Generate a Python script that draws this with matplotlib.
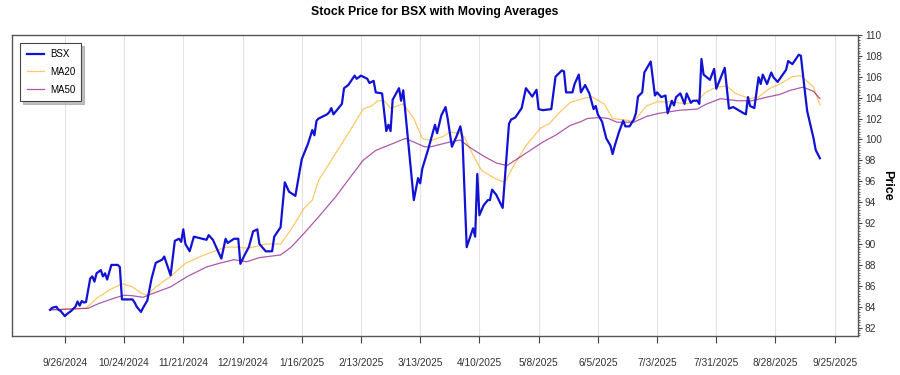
import numpy as np
import pandas as pd
import matplotlib
matplotlib.use('Agg')
from matplotlib import pyplot as plt
from matplotlib.ticker import MultipleLocator

plt.rcParams['font.family'] = ['Liberation Sans', 'DejaVu Sans']

# BSX close
price_dates = [
    '2024-09-19', '2024-09-20', '2024-09-22', '2024-09-23', '2024-09-24', '2024-09-26', '2024-09-27',
    '2024-09-29', '2024-10-01', '2024-10-02', '2024-10-03', '2024-10-04', '2024-10-05', '2024-10-06',
    '2024-10-08', '2024-10-09', '2024-10-10', '2024-10-11', '2024-10-12', '2024-10-13', '2024-10-14',
    '2024-10-15', '2024-10-16', '2024-10-18', '2024-10-21', '2024-10-22', '2024-10-23', '2024-10-25',
    '2024-10-28', '2024-10-29', '2024-10-30', '2024-11-01', '2024-11-02', '2024-11-04', '2024-11-06',
    '2024-11-08', '2024-11-11', '2024-11-12', '2024-11-15', '2024-11-17', '2024-11-19', '2024-11-20',
    '2024-11-21', '2024-11-22', '2024-11-24', '2024-11-26', '2024-11-30', '2024-12-02', '2024-12-03',
    '2024-12-05', '2024-12-09', '2024-12-11', '2024-12-12', '2024-12-15', '2024-12-17', '2024-12-18',
    '2024-12-20', '2024-12-22', '2024-12-24', '2024-12-26', '2024-12-27', '2024-12-30', '2025-01-02',
    '2025-01-03', '2025-01-04', '2025-01-06', '2025-01-08', '2025-01-10', '2025-01-13', '2025-01-16',
    '2025-01-19', '2025-01-21', '2025-01-22', '2025-01-23', '2025-01-24', '2025-01-28', '2025-01-29',
    '2025-01-30', '2025-01-31', '2025-02-02', '2025-02-04', '2025-02-05', '2025-02-07', '2025-02-10',
    '2025-02-11', '2025-02-13', '2025-02-16', '2025-02-17', '2025-02-19', '2025-02-20', '2025-02-23',
    '2025-02-25', '2025-02-26', '2025-02-27', '2025-02-28', '2025-03-03', '2025-03-04', '2025-03-05',
    '2025-03-10', '2025-03-12', '2025-03-13', '2025-03-14', '2025-03-17', '2025-03-20', '2025-03-21',
    '2025-03-23', '2025-03-25', '2025-03-26', '2025-03-28', '2025-03-30', '2025-04-01', '2025-04-02',
    '2025-04-04', '2025-04-07', '2025-04-08', '2025-04-09', '2025-04-10', '2025-04-12', '2025-04-14',
    '2025-04-15', '2025-04-16', '2025-04-18', '2025-04-21', '2025-04-24', '2025-04-25', '2025-04-27',
    '2025-04-30', '2025-05-02', '2025-05-05', '2025-05-07', '2025-05-08', '2025-05-10', '2025-05-14',
    '2025-05-16', '2025-05-19', '2025-05-20', '2025-05-21', '2025-05-24', '2025-05-25', '2025-05-27',
    '2025-05-28', '2025-05-30', '2025-06-01', '2025-06-03', '2025-06-04', '2025-06-05', '2025-06-07',
    '2025-06-09', '2025-06-11', '2025-06-12', '2025-06-13', '2025-06-15', '2025-06-17', '2025-06-18',
    '2025-06-20', '2025-06-22', '2025-06-23', '2025-06-24', '2025-06-26', '2025-06-27', '2025-06-30',
    '2025-07-02', '2025-07-03', '2025-07-05', '2025-07-07', '2025-07-08', '2025-07-10', '2025-07-11',
    '2025-07-12', '2025-07-14', '2025-07-16', '2025-07-17', '2025-07-19', '2025-07-20', '2025-07-22',
    '2025-07-23', '2025-07-24', '2025-07-25', '2025-07-28', '2025-07-30', '2025-07-31', '2025-08-04',
    '2025-08-06', '2025-08-08', '2025-08-13', '2025-08-14', '2025-08-15', '2025-08-16', '2025-08-18',
    '2025-08-20', '2025-08-21', '2025-08-22', '2025-08-24', '2025-08-26', '2025-08-27', '2025-08-29',
    '2025-09-02', '2025-09-03', '2025-09-05', '2025-09-08', '2025-09-09', '2025-09-11', '2025-09-12',
    '2025-09-15', '2025-09-16', '2025-09-17', '2025-09-18',
]
price = [
    83.7, 83.9, 84.0, 83.7, 83.6, 83.1, 83.3,
    83.6, 84.0, 84.5, 84.1, 84.55, 84.4, 84.45,
    86.7, 86.9, 86.4, 87.2, 87.35, 87.5, 86.9,
    87.2, 86.6, 88.0, 88.0, 87.8, 84.7, 84.7,
    84.7, 84.4, 84.0, 83.5, 83.9, 84.6, 86.7,
    88.2, 88.5, 88.8, 87.0, 90.3, 90.5, 90.2,
    91.4, 90.0, 89.3, 90.7, 90.5, 90.4, 90.85,
    90.4, 88.6, 90.5, 90.1, 90.5, 90.5, 88.1,
    88.95, 89.7, 91.2, 91.4, 90.0, 89.3, 89.3,
    90.7, 91.0, 91.6, 95.9, 95.0, 94.6, 98.1,
    99.6, 100.9, 100.4, 101.8, 102.0, 102.4, 102.6,
    103.0, 102.4, 102.9, 103.4, 104.9, 105.2, 106.1,
    105.8, 106.1, 105.8, 105.4, 105.6, 104.5, 104.4,
    100.8, 101.4, 100.8, 103.8, 104.9, 103.7, 104.7,
    94.2, 96.3, 95.8, 97.2, 99.2, 101.4, 100.6,
    102.3, 103.1, 102.0, 99.3, 100.2, 101.25, 100.1,
    89.7, 91.5, 90.7, 96.7, 92.75, 93.7, 94.2,
    94.2, 95.2, 94.7, 93.45, 101.5, 101.9, 102.1,
    103.0, 104.9, 104.1, 104.75, 102.9, 102.8, 102.9,
    106.0, 106.6, 106.5, 104.5, 104.5, 105.3, 106.2,
    104.5, 105.2, 104.4, 102.9, 103.2, 102.4, 101.7,
    100.1, 99.4, 98.6, 99.4, 100.7, 101.8, 101.25,
    101.25, 101.9, 102.5, 104.1, 104.5, 106.4, 107.45,
    104.2, 104.5, 104.05, 104.2, 102.5, 103.7, 103.25,
    104.05, 104.4, 103.4, 104.4, 103.5, 103.7, 103.7,
    103.4, 107.7, 106.2, 105.7, 106.75, 104.85, 106.85,
    102.95, 103.1, 102.5, 102.4, 104.05, 103.2, 103.0,
    105.95, 105.3, 106.2, 105.3, 106.4, 105.95, 105.5,
    106.65, 107.5, 107.2, 108.1, 108.0, 104.4, 102.7,
    100.1, 99.0, 98.6, 98.2,
]

# 20-day moving average
ma20_dates = [
    '2024-09-19', '2024-10-06', '2024-10-11', '2024-10-17', '2024-10-23', '2024-10-28', '2024-11-01',
    '2024-11-04', '2024-11-08', '2024-11-15', '2024-11-22', '2024-11-29', '2024-12-05', '2024-12-11',
    '2024-12-16', '2024-12-21', '2024-12-24', '2024-12-30', '2025-01-06', '2025-01-11', '2025-01-17',
    '2025-01-21', '2025-01-24', '2025-02-01', '2025-02-08', '2025-02-14', '2025-02-18', '2025-02-21',
    '2025-02-24', '2025-02-27', '2025-03-05', '2025-03-10', '2025-03-14', '2025-03-18', '2025-03-24',
    '2025-03-27', '2025-04-01', '2025-04-03', '2025-04-07', '2025-04-11', '2025-04-17', '2025-04-22',
    '2025-04-26', '2025-05-02', '2025-05-09', '2025-05-13', '2025-05-18', '2025-05-23', '2025-05-29',
    '2025-06-02', '2025-06-08', '2025-06-12', '2025-06-16', '2025-06-22', '2025-06-28', '2025-07-03',
    '2025-07-09', '2025-07-17', '2025-07-23', '2025-07-26', '2025-07-31', '2025-08-05', '2025-08-09',
    '2025-08-16', '2025-08-20', '2025-08-25', '2025-08-30', '2025-09-05', '2025-09-09', '2025-09-15',
    '2025-09-18',
]
ma20 = [
    83.7, 83.85, 84.8, 85.6, 86.2, 85.9, 85.3,
    85.1, 85.9, 86.9, 88.15, 88.8, 89.25, 89.7,
    89.7, 89.6, 89.7, 90.0, 90.0, 91.4, 93.4,
    94.2, 96.1, 98.65, 100.9, 102.9, 103.2, 103.7,
    103.7, 103.0, 103.4, 102.0, 100.1, 99.9, 100.3,
    100.7, 100.6, 100.2, 98.5, 97.05, 96.3, 95.9,
    97.4, 99.4, 101.1, 101.5, 102.6, 103.55, 103.9,
    104.1, 103.4, 102.0, 101.9, 101.75, 103.2, 103.6,
    103.6, 103.4, 103.9, 104.5, 105.0, 105.1, 104.4,
    103.9, 104.05, 104.85, 105.3, 106.0, 106.1, 105.0,
    103.3,
]

# 50-day moving average
ma50_dates = [
    '2024-09-19', '2024-10-07', '2024-10-12', '2024-10-19', '2024-10-24', '2024-10-28', '2024-11-02',
    '2024-11-07', '2024-11-15', '2024-11-23', '2024-12-02', '2024-12-08', '2024-12-15', '2024-12-21',
    '2024-12-27', '2025-01-06', '2025-01-11', '2025-01-17', '2025-01-24', '2025-02-01', '2025-02-08',
    '2025-02-14', '2025-02-20', '2025-02-28', '2025-03-06', '2025-03-10', '2025-03-15', '2025-03-18',
    '2025-03-27', '2025-04-01', '2025-04-05', '2025-04-12', '2025-04-18', '2025-04-23', '2025-04-28',
    '2025-05-04', '2025-05-10', '2025-05-16', '2025-05-23', '2025-05-28', '2025-05-31', '2025-06-06',
    '2025-06-10', '2025-06-14', '2025-06-22', '2025-06-28', '2025-07-04', '2025-07-14', '2025-07-22',
    '2025-07-26', '2025-08-02', '2025-08-10', '2025-08-17', '2025-08-24', '2025-08-30', '2025-09-04',
    '2025-09-10', '2025-09-15', '2025-09-18',
]
ma50 = [
    83.7, 83.85, 84.3, 84.8, 85.1, 85.05, 84.9,
    85.3, 85.9, 86.9, 87.8, 88.15, 88.5, 88.3,
    88.7, 88.95, 89.7, 91.0, 92.6, 94.5, 96.4,
    98.0, 98.95, 99.6, 100.1, 99.75, 99.3, 99.3,
    99.75, 99.95, 99.3, 98.4, 97.75, 97.5, 98.15,
    98.95, 99.75, 100.4, 101.35, 101.7, 102.0, 102.1,
    102.0, 101.65, 101.65, 102.2, 102.5, 102.8, 102.9,
    103.35, 103.9, 103.7, 103.7, 104.05, 104.3, 104.7,
    105.0, 104.6, 103.9,
]

tick_dates = pd.date_range('2024-09-26', periods=14, freq='28D')
tick_labels = [f'{d.month}/{d.day}/{d.year}' for d in tick_dates]

fig = plt.figure(figsize=(9, 3.75), dpi=100)
ax = fig.add_axes([0.0133, 0.104, 0.94, 0.803])

ax.plot(pd.to_datetime(price_dates), price, color='#1212d4', lw=1.6, label='BSX', zorder=3)
ax.plot(pd.to_datetime(ma20_dates), ma20, color='orange', alpha=0.6, lw=0.9, label='MA20', zorder=2)
ax.plot(pd.to_datetime(ma50_dates), ma50, color='purple', alpha=0.65, lw=0.9, label='MA50', zorder=2)

ax.set_xlim(pd.Timestamp('2024-09-01'), pd.Timestamp('2025-10-06'))
ax.set_ylim(81.2, 110)

ax.set_xticks(tick_dates)
ax.set_xticklabels(tick_labels, fontsize=7.3, color='#333333')
ax.tick_params(axis='x', length=5, pad=11, color='#444444')
ax.grid(axis='x', color='#e3e3e3', lw=0.8)
ax.set_axisbelow(True)

ax.yaxis.tick_right()
ax.yaxis.set_label_position('right')
ax.set_yticks(np.arange(82, 111, 2))
ax.yaxis.set_minor_locator(MultipleLocator(0.25))
ax.tick_params(axis='y', which='major', length=3, pad=2, labelsize=7.3, labelcolor='#333333', color='#444444')
ax.tick_params(axis='y', which='minor', length=1.5, color='#444444')
ax.set_ylabel('Price', rotation=270, fontsize=9, fontweight='bold', labelpad=8)

for s in ax.spines.values():
    s.set_color('#555555')
    s.set_linewidth(1.0)

ax.set_title('Stock Price for BSX with Moving Averages', fontsize=8.8, fontweight='bold', pad=14)

leg = ax.legend(loc='upper left', fontsize=7.0, fancybox=False,
                shadow={'color': '#999999', 'alpha': 0.6, 'ox': 2, 'oy': -2},
                edgecolor='#444444', borderpad=0.65, handlelength=1.8, handletextpad=0.6,
                labelspacing=0.8, bbox_to_anchor=(0.004, 0.99))
leg.get_frame().set_linewidth(0.8)

fig.savefig('out.png', dpi=100)
